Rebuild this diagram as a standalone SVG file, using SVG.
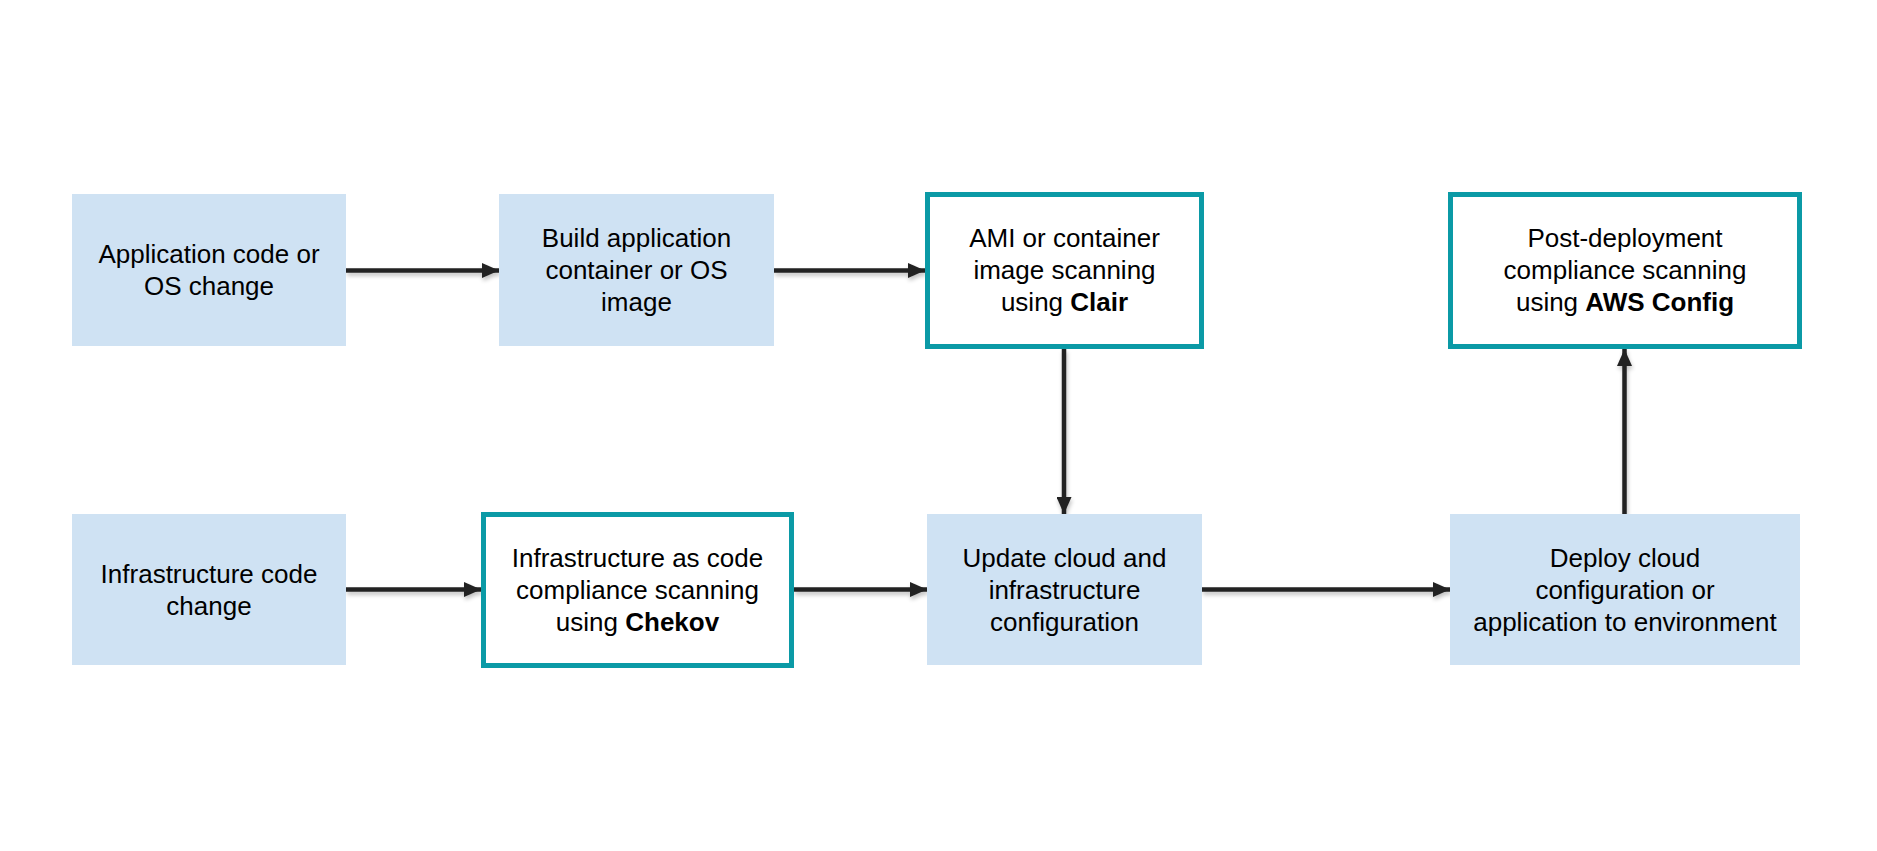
<svg xmlns="http://www.w3.org/2000/svg" width="1877" height="851" viewBox="0 0 1877 851">
  <style>
    .fill { fill: #cfe2f3; }
    .tool { fill: #ffffff; stroke: #0b9aa6; stroke-width: 5; }
    .lbl { font-family: "Liberation Sans", Arial, sans-serif; font-size: 26px; fill: #000000; text-anchor: middle; }
    .b { font-weight: bold; }
    .conn { stroke: #222222; stroke-width: 4.5; fill: none; marker-end: url(#ah); }
  </style>
  <defs>
    <marker id="ah" markerUnits="userSpaceOnUse" markerWidth="17" markerHeight="15" refX="17" refY="7.5" orient="auto">
      <path d="M0,0 L17,7.5 L0,15 Z" fill="#222222"/>
    </marker>
    <filter id="sh" x="-10%" y="-50%" width="120%" height="300%">
      <feGaussianBlur in="SourceAlpha" stdDeviation="2"/>
      <feOffset dx="1" dy="3" result="o"/>
      <feComponentTransfer><feFuncA type="linear" slope="0.25"/></feComponentTransfer>
      <feMerge><feMergeNode/><feMergeNode in="SourceGraphic"/></feMerge>
    </filter>
  </defs>
  <rect width="1877" height="851" fill="#ffffff"/>

  <g id="connectors" filter="url(#sh)">
    <line class="conn" x1="346" y1="270.5" x2="499" y2="270.5"/>
    <line class="conn" x1="774" y1="270.5" x2="925" y2="270.5"/>
    <line class="conn" x1="1064" y1="349" x2="1064" y2="514"/>
    <line class="conn" x1="346" y1="589.5" x2="481" y2="589.5"/>
    <line class="conn" x1="794" y1="589.5" x2="927" y2="589.5"/>
    <line class="conn" x1="1202" y1="589.5" x2="1450" y2="589.5"/>
    <line class="conn" x1="1624.5" y1="514" x2="1624.5" y2="349"/>
  </g>

  <g id="app-change">
    <rect class="fill" x="72" y="194" width="274" height="152"/>
    <text class="lbl" x="209" y="263">Application code or</text>
    <text class="lbl" x="209" y="295">OS change</text>
  </g>

  <g id="build-image">
    <rect class="fill" x="499" y="194" width="275" height="152"/>
    <text class="lbl" x="636.5" y="247">Build application</text>
    <text class="lbl" x="636.5" y="279">container or OS</text>
    <text class="lbl" x="636.5" y="311">image</text>
  </g>

  <g id="clair-scan">
    <rect class="tool" x="927.5" y="194.5" width="274" height="152"/>
    <text class="lbl" x="1064.5" y="247">AMI or container</text>
    <text class="lbl" x="1064.5" y="279">image scanning</text>
    <text class="lbl" x="1064.5" y="311">using <tspan class="b">Clair</tspan></text>
  </g>

  <g id="aws-config-scan">
    <rect class="tool" x="1450.5" y="194.5" width="349" height="152"/>
    <text class="lbl" x="1625" y="247">Post-deployment</text>
    <text class="lbl" x="1625" y="279">compliance scanning</text>
    <text class="lbl" x="1625" y="311">using <tspan class="b">AWS Config</tspan></text>
  </g>

  <g id="infra-change">
    <rect class="fill" x="72" y="514" width="274" height="151"/>
    <text class="lbl" x="209" y="582.5">Infrastructure code</text>
    <text class="lbl" x="209" y="614.5">change</text>
  </g>

  <g id="chekov-scan">
    <rect class="tool" x="483.5" y="514.5" width="308" height="151"/>
    <text class="lbl" x="637.5" y="566.5">Infrastructure as code</text>
    <text class="lbl" x="637.5" y="598.5">compliance scanning</text>
    <text class="lbl" x="637.5" y="630.5">using <tspan class="b">Chekov</tspan></text>
  </g>

  <g id="update-config">
    <rect class="fill" x="927" y="514" width="275" height="151"/>
    <text class="lbl" x="1064.5" y="566.5">Update cloud and</text>
    <text class="lbl" x="1064.5" y="598.5">infrastructure</text>
    <text class="lbl" x="1064.5" y="630.5">configuration</text>
  </g>

  <g id="deploy">
    <rect class="fill" x="1450" y="514" width="350" height="151"/>
    <text class="lbl" x="1625" y="566.5">Deploy cloud</text>
    <text class="lbl" x="1625" y="598.5">configuration or</text>
    <text class="lbl" x="1625" y="630.5">application to environment</text>
  </g>
</svg>
